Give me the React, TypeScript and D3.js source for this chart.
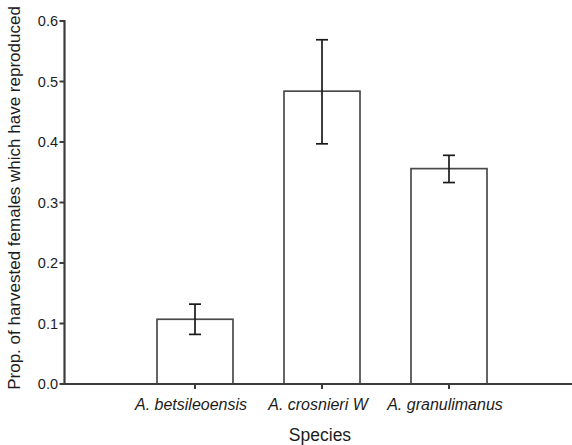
import React from "react";
import * as d3 from "d3";

const categories = ["A. betsileoensis", "A. crosnieri W", "A. granulimanus"];
const means = [0.107, 0.484, 0.356];
const errLow = [0.082, 0.397, 0.333];
const errHigh = [0.132, 0.569, 0.378];
const yTicks = [0, 0.1, 0.2, 0.3, 0.4, 0.5, 0.6];

const W = 572;
const H = 445;
const axisX = 64.5;
const axisY = 384;
const font = "'Liberation Sans', Arial, Helvetica, sans-serif";

export default function App() {
  const x = d3.scalePoint<string>().domain(categories).range([68, 576]).padding(1);
  const y = d3.scaleLinear().domain([0, 0.6]).range([384, 21]);
  const barW = 76;
  const capW = 12;
  const axisColor = "#3c3c3c";
  const textColor = "#1c1c1c";

  return (
    <svg
      width={W}
      height={H}
      style={{ position: "absolute", left: 0, top: 0, background: "#fff" }}
      fontFamily={font}
    >
      {/* bars */}
      {categories.map((c, i) => {
        const cx = x(c)!;
        return (
          <rect
            key={c}
            x={cx - barW / 2}
            y={y(means[i])}
            width={barW}
            height={y(0) - y(means[i])}
            fill="#fff"
            stroke="#4a4a4a"
            strokeWidth={1.7}
          />
        );
      })}
      {/* error bars */}
      {categories.map((c, i) => {
        const cx = x(c)!;
        return (
          <g key={c} stroke="#1a1a1a" strokeWidth={1.7}>
            <line x1={cx} x2={cx} y1={y(errLow[i])} y2={y(errHigh[i])} />
            <line x1={cx - capW / 2} x2={cx + capW / 2} y1={y(errLow[i])} y2={y(errLow[i])} />
            <line x1={cx - capW / 2} x2={cx + capW / 2} y1={y(errHigh[i])} y2={y(errHigh[i])} />
          </g>
        );
      })}
      {/* y axis */}
      <line x1={axisX} x2={axisX} y1={y(0.6) - 1} y2={axisY + 1} stroke={axisColor} strokeWidth={2.2} />
      {yTicks.map((t) => (
        <g key={t}>
          <line x1={axisX - 5} x2={axisX} y1={y(t)} y2={y(t)} stroke={axisColor} strokeWidth={2} />
          <text
            x={58}
            y={y(t)}
            textAnchor="end"
            dominantBaseline="central"
            fontSize={14.5}
            fill={textColor}
          >
            {t.toFixed(1)}
          </text>
        </g>
      ))}
      {/* x axis */}
      <line x1={axisX - 1} x2={W} y1={axisY} y2={axisY} stroke={axisColor} strokeWidth={2.2} />
      {categories.map((c) => (
        <g key={c}>
          <line x1={x(c)!} x2={x(c)!} y1={axisY} y2={axisY + 5} stroke={axisColor} strokeWidth={2} />
          <text
            x={x(c)! - 4}
            y={410}
            textAnchor="middle"
            fontSize={16}
            fontStyle="italic"
            fill={textColor}
          >
            {c}
          </text>
        </g>
      ))}
      {/* axis titles */}
      <text x={320} y={441} textAnchor="middle" fontSize={17.5} fill={textColor}>
        Species
      </text>
      <text
        transform={`translate(20,198) rotate(-90)`}
        textAnchor="middle"
        fontSize={17}
        fill={textColor}
      >
        Prop. of harvested females which have reproduced
      </text>
    </svg>
  );
}
